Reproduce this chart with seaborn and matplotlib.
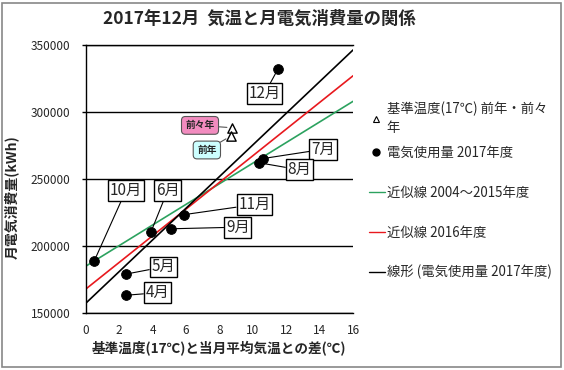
import pandas as pd
import matplotlib.pyplot as plt
from matplotlib.patches import Rectangle
from matplotlib.lines import Line2D
import seaborn as sns

sns.set_style("white")
plt.rcParams['font.family'] = ['Noto Sans CJK JP', 'DejaVu Sans']

# 2017 monthly data: temperature difference vs consumption
months = ["4月", "5月", "6月", "7月", "8月", "9月", "10月", "11月", "12月"]
temp_diff = [2.4, 2.4, 3.9, 10.6, 10.4, 5.1, 0.5, 5.9, 11.5]
usage = [163000, 178800, 210200, 265200, 262000, 212700, 188400, 223300, 332000]
# label box positions (data coords)
label_x = [4.3, 4.65, 4.9, 14.2, 12.8, 9.1, 2.4, 10.1, 10.7]
label_y = [164900, 184200, 241200, 272100, 256800, 213900, 241200, 230800, 313700]

# previous years at base temperature
prev_names = ["前々年", "前年"]
prev_x = [8.78, 8.68]
prev_y = [288200, 282000]
prev_label_x = [6.84, 7.25]
prev_label_y = [290000, 271600]
prev_colors = ["#f28cbf", "#ccffff"]

# regression lines (endpoints at x=0 and x=16)
line_x = [0, 16]
green_y = [184700, 308000]
red_y = [167600, 327100]
black_y = [157000, 346400]

df = pd.DataFrame({"month": months, "x": temp_diff, "y": usage})

fig, ax = plt.subplots(figsize=(5.64, 3.70), dpi=100)
fig.subplots_adjust(left=0.152, right=0.626, top=0.878, bottom=0.155)

sns.lineplot(x=line_x, y=green_y, color="#2ca25f", lw=1.2, ax=ax)
sns.lineplot(x=line_x, y=red_y, color="#e8191e", lw=1.2, ax=ax)
sns.lineplot(x=line_x, y=black_y, color="black", lw=1.2, ax=ax)
sns.scatterplot(data=df, x="x", y="y", color="black", s=50, edgecolor="black", zorder=5, ax=ax)
sns.scatterplot(x=prev_x, y=prev_y, marker="^", s=45, facecolor="white", edgecolor="black",
                linewidth=1, zorder=5, ax=ax)

for m, px, py, lx, ly in zip(months, temp_diff, usage, label_x, label_y):
    ax.annotate(m, xy=(px, py), xytext=(lx, ly), ha="center", va="center", fontsize=11,
                bbox=dict(boxstyle="square,pad=0.12", fc="white", ec="black", lw=1),
                arrowprops=dict(arrowstyle="-", color="black", lw=0.8, shrinkA=0, shrinkB=3),
                zorder=6)

for n, px, py, lx, ly, c in zip(prev_names, prev_x, prev_y, prev_label_x, prev_label_y, prev_colors):
    ax.annotate(n, xy=(px, py), xytext=(lx, ly), ha="center", va="center", fontsize=7,
                fontweight="bold",
                bbox=dict(boxstyle="round,pad=0.4", fc=c, ec="#555555", lw=0.8),
                arrowprops=dict(arrowstyle="-", color="#555555", lw=0.8, shrinkA=0, shrinkB=4),
                zorder=6)

ax.set_xlim(0, 16)
ax.set_ylim(150000, 350000)
ax.set_xticks(range(0, 17, 2))
ax.set_yticks(range(150000, 350001, 50000))
ax.tick_params(axis="x", labelsize=8.5, length=0, pad=8)
ax.tick_params(axis="y", labelsize=8.5, length=3, width=1, color="black", pad=8, left=True)
ax.grid(axis="y", color="black", lw=1)
ax.set_axisbelow(True)
ax.spines["right"].set_visible(False)
for s in ["left", "bottom", "top"]:
    ax.spines[s].set_color("black")
    ax.spines[s].set_linewidth(1)

ax.set_xlabel("基準温度(17℃)と当月平均気温との差(℃)", fontsize=9.8, fontweight="bold", labelpad=3)
ax.set_ylabel("月電気消費量(kWh)", fontsize=10, fontweight="bold")
ax.yaxis.set_label_coords(-0.25, 0.43)

fig.suptitle("2017年12月  気温と月電気消費量の関係", x=0.46, y=0.975, fontsize=12.5,
             fontweight="bold")

# legend part 1: markers
h1 = [
    Line2D([], [], marker="^", ls="", mfc="white", mec="black", ms=5, mew=0.8),
    Line2D([], [], marker="o", ls="", color="black", ms=5),
]
l1 = ["基準温度(17℃) 前年・前々\n年", "電気使用量 2017年度"]
leg1 = fig.legend(h1, l1, loc="upper left", bbox_to_anchor=(0.655, 0.724), frameon=False,
                  fontsize=9.6, handlelength=1.0, handletextpad=0.3, labelspacing=0.8,
                  borderaxespad=0, borderpad=0)
for t in leg1.get_texts():
    t.set_linespacing(1.4)

# legend part 2: lines
h2 = [
    Line2D([], [], color="#2ca25f", lw=1),
    Line2D([], [], color="#e8191e", lw=1),
    Line2D([], [], color="black", lw=1),
]
l2 = ["近似線 2004～2015年度", "近似線 2016年度", "線形 (電気使用量 2017年度)"]
fig.legend(h2, l2, loc="upper left", bbox_to_anchor=(0.655, 0.497), frameon=False,
           fontsize=9.6, handlelength=1.2, handletextpad=0.1, labelspacing=1.9,
           borderaxespad=0, borderpad=0)

fig.patches.append(Rectangle((0.004, 0.008), 0.99, 0.985, transform=fig.transFigure,
                             fill=False, ec="#888888", lw=1.2))

fig.savefig("out.png", dpi=100)
